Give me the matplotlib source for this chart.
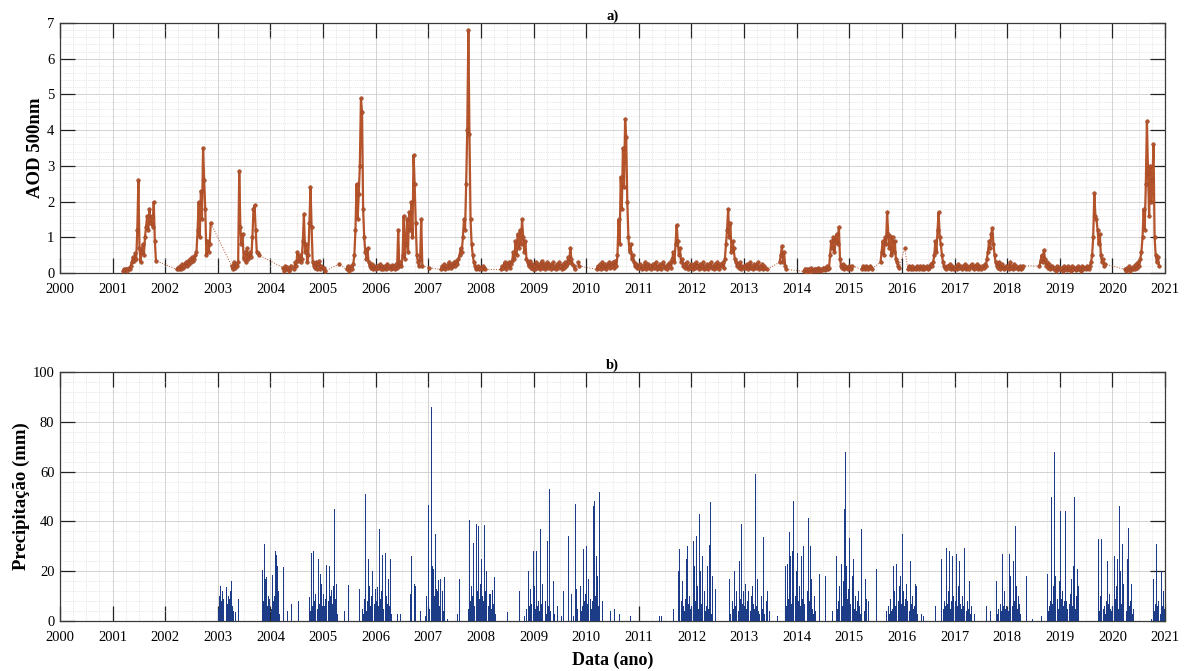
import numpy as np
import matplotlib
matplotlib.use("Agg")
import matplotlib.pyplot as plt
from matplotlib.ticker import MultipleLocator

plt.rcParams['font.family'] = ['Liberation Serif', 'DejaVu Serif']

n = np.nan

# ---------------- AOD 500nm (weekly values, 48 per year) ----------------
aod_2001 = [n]*9 + [0.05,0.1,0.08,0.12,0.06,0.15,0.1,0.2] + [0.3,0.45,0.35,0.55,0.4,1.2,2.6] + \
    [0.7,0.3,0.6,0.8,0.5,1.0] + [1.3,1.6,1.2,1.8,1.4,1.6,1.3,2.0,0.9] + [0.35] + [n]*8
aod_2002 = [n]*10 + [0.1,0.15,0.1,0.2,0.12,0.25,0.15,0.2,0.3,0.2,0.35,0.25,0.4,0.3,0.45,0.35] + \
    [0.4,0.5,0.6] + [1.2,2.0,1.0,2.3,1.5,3.5,2.6,1.8] + [0.5,0.9,0.6,0.8] + [1.4] + [n]*6
aod_2003 = [n]*12 + [0.2,0.1,0.3,0.15,0.25,0.2,0.3] + [2.85] + \
    [1.3,0.8,1.1,0.4,0.6,0.3,0.7,0.4,0.5,0.6,0.45,1.0] + [1.8,1.9,1.2,0.6,0.55,0.5] + [n]*10
aod_2004 = [n]*11 + [0.15,0.05,0.2,0.1,0.18,0.05,0.12,0.2] + [n, n] + \
    [0.1,0.3,0.2,0.6,0.35,0.5,0.3,0.4,0.9,1.65,0.6,0.8,0.3,0.5,1.4,2.4,1.3,0.3,0.2,0.15,
     0.3,0.1,0.25,0.35,0.1,0.2,0.15]
aod_2005 = [0.15,0.05] + [n]*12 + [0.25] + [n]*6 + [0.1,0.2,0.05,0.15,0.2,0.1,0.25] + \
    [0.5,1.2,2.5,1.5,2.2,3.0,4.9,4.5,1.8,1.0,0.6,0.4,0.7,0.3,0.2,0.15,0.25,0.1,0.2,0.15]
aod_2006 = [0.1,0.2,0.15,0.25,0.1,0.2,0.12,0.18,0.2,0.1,0.25,0.15,0.2,0.1,0.22,0.15,0.2,0.1,0.25,0.15] + \
    [1.2,0.2,0.3,0.2,0.5,1.6,0.4,0.8,1.5,0.6,1.7,1.2,2.0,1.0,3.3,2.5,1.4,0.5,0.3,0.2,0.4,1.5,0.2] + [n]*5
aod_2007 = [0.15] + [n]*10 + \
    [0.1,0.2,0.15,0.25,0.1,0.2,0.15,0.3,0.2,0.15,0.25,0.2,0.3,0.2,0.35,0.25,0.4] + \
    [0.5,0.7,0.6,1.0,1.5,1.2,2.5,4.0,6.8,3.9,1.5,0.8,0.5,0.3,0.2,0.1,0.15,0.2,0.1,0.15]
aod_2008 = [0.1,0.2,0.15,0.1] + [n]*14 + \
    [0.1,0.2,0.15,0.3,0.1,0.25,0.2,0.3,0.15,0.25,0.35,0.6,0.4,0.9,0.5,1.1,0.7,1.2,0.8,1.5,
     1.0,0.6,0.9,0.4,0.3,0.2,0.35,0.15,0.25,0.1]
aod_2009 = [0.2,0.1,0.3,0.15,0.25,0.1,0.2,0.35,0.15,0.25,0.1,0.2,0.3,0.15,0.25,0.1,0.2,0.3,0.15,0.2,
            0.1,0.25,0.15,0.3,0.2,0.1,0.25,0.15,0.3,0.2,0.25,0.45,0.3,0.7,0.4,0.25,0.2,0.1] + \
    [n, n] + [0.3,0.2] + [n]*6
aod_2010 = [n]*9 + [0.1,0.2,0.15,0.25,0.1,0.3,0.2,0.15,0.25,0.1,0.2,0.3,0.15,0.25,0.2,0.3,0.15,0.35,0.2] + \
    [0.5,1.5,0.8,2.7,1.8,3.5,2.4,4.3] + [3.8,2.0,1.0,0.6,0.8,0.4,0.5,0.3,0.2,0.25,0.15,0.2]
aod_2011 = [0.15,0.25,0.1,0.2,0.15,0.3,0.1,0.2,0.25,0.15,0.2,0.1,0.25,0.15,0.2,0.3,0.1,0.2,0.15,0.25,
            0.1,0.2,0.3,0.15,0.2,0.1,0.25,0.2,0.3,0.15,0.4,0.6,0.3,0.8,1.35,0.9,0.5,0.7,0.3,0.4,
            0.2,0.25,0.15,0.3,0.1,0.2,0.15,0.25]
aod_2012 = [0.2,0.1,0.25,0.15,0.3,0.2,0.1,0.25,0.15,0.2,0.3,0.1,0.2,0.15,0.25,0.1,0.2,0.3,0.15,0.2,
            0.1,0.25,0.15,0.3,0.2,0.1,0.25,0.2,0.3,0.15,0.4,0.8,1.2,1.8,1.0,1.4,0.6,0.9,0.7,0.4,
            0.3,0.2,0.25,0.15,0.3,0.1,0.2,0.15]
aod_2013 = [0.2,0.15,0.25,0.1,0.2,0.3,0.15,0.2,0.1,0.25,0.15,0.2,0.3,0.1,0.2,0.15,0.25,0.1,0.2,0.15,0.1] + \
    [n]*11 + [0.3,0.5,0.75,0.3,0.6,0.2,0.1] + [n]*9
aod_2014 = [n]*6 + [0.05,0.1,0.03,0.12,0.06,0.1,0.04,0.15,0.08,0.05,0.12,0.1,0.06,0.15,0.08,0.1,0.05,
                    0.12,0.15,0.08,0.1,0.2,0.12,0.15] + \
    [0.5,0.9,0.7,1.0,0.6,0.9,1.1,0.8,1.3,0.4,0.2,0.15,0.25,0.1,0.2,0.15,0.1,0.2]
aod_2015 = [0.15,0.1,0.2] + [n]*8 + [0.1,0.2,0.15,0.1,0.2,0.15,0.1,0.2,0.15,0.12] + [n]*7 + \
    [0.3,0.6,0.9,0.5,1.0,0.8,1.7,1.1,0.7,1.05,0.5,1.0,0.6,0.9,0.4,0.3,0.2,0.15] + [n, n]
aod_2016 = [n, n, 0.7, n, n] + \
    [0.1,0.2,0.15,0.1,0.2,0.12,0.15,0.1,0.2,0.15,0.1,0.2,0.15,0.12,0.2,0.1,0.15,0.2,0.1,0.15,0.2,0.25,0.2] + \
    [0.3,0.5,0.9,0.6,1.2,1.7,1.0,0.8,0.5,0.3] + [0.2,0.15,0.1,0.2,0.15,0.25,0.1,0.2,0.15,0.1]
aod_2017 = [0.15,0.2,0.1,0.25,0.15,0.2,0.1,0.15,0.2,0.25,0.1,0.2,0.15,0.1,0.2,0.25,0.15,0.1,0.2,0.15,
            0.25,0.1,0.2,0.15,0.1,0.2,0.15,0.25,0.2] + \
    [0.4,0.6,0.9,0.7,1.1,1.25,0.8,0.5,0.3] + [0.2,0.15,0.3,0.1,0.2,0.25,0.15,0.1,0.2,0.15]
aod_2018 = [0.2,0.1,0.3,0.15,0.2,0.1,0.25,0.15,0.2,0.1,0.15,0.2,0.1,0.15,0.2] + [n]*14 + \
    [0.2,0.35,0.5,0.3,0.65,0.4,0.2,0.3,0.15,0.25,0.1,0.2,0.15] + [0.1,0.15,0.05,0.2,0.1,0.15]
aod_2019 = [0.1,0.15,0.05,0.2,0.1,0.15,0.08,0.2,0.1,0.15,0.05,0.2,0.1,0.15,0.08,0.12,0.2,0.1,0.15,0.05,
            0.2,0.1,0.15,0.1,0.2,0.15,0.1,0.2,0.3] + \
    [0.5,1.0,2.25,1.6,1.5,1.2,0.8,1.1,0.5,0.3,0.4,0.2,0.25] + [n]*6
aod_2020 = [n]*11 + [0.1,0.05,0.15,0.1,0.2,0.05,0.15,0.1,0.2,0.1,0.25,0.15,0.3,0.2,0.4] + \
    [0.6,1.0,1.8,1.2,2.5,4.25,2.8,1.6,3.0,2.0,2.6,3.6,1.0,0.5,0.3,0.45,0.2] + [n]*5

# ---------------- Precipitation (mm, weekly values, 48 per year) ----------------
pr_2003 = [5,10,14,8,12,9,13,13.5,7,10,9,12,16,6,4,0,3.5,0,9] + [0]*21 + [20.5,8,31,17,17.5,6,10,9]
pr_2004 = [5,18.5,8,10,28,26.5,22,12,3,0,0,21.5,0,0,0,4,0,0,0,7,0,0,0,0,0,8] + [0]*9 + \
    [9.5,4,27.5,6,28,8,11,5,25,7,19,15,6]
pr_2005 = [11,6,9,22.5,8,22,10,12.5,7,14,45,9,15,3,17.5] + [0,0,0,0,4,0,0,0,14.5,0,0,0,0,0,0,0,0,0] + \
    [13,0,5,3,9,51,4,8,25,14,6,10,20,7,13]
pr_2006 = [8,13.5,6,37,9,12,26.5,5,27.5,10,7,17,6,25,3,0] + [0,0,0,3,0,0,3,0,0,0,0,0,0,0] + \
    [0,11,26,0,0,15,14,0,0,0,4,0,0,0,0,2,10,0]
pr_2007 = [46.5,5,86,22,21,10,35,13,12,16.5,6,17,12,4,17.5] + \
    [0,0,1,0,0,0,0,0,0,0,0,3,0,17,0,0,0,0,0,0,0] + [5,40.5,8,14,10,31.5,6,39,12,38,9,15]
pr_2008 = [25,10,8,38.5,12,20,6,11,11,5,12.5,7,17.5,3] + [0]*10 + [3.5] + [0]*10 + \
    [12,0,0,0,2,0,5,0,20,6,13,7,28]
pr_2009 = [14,5,28,6,8,4,36.8,7,15,5,8,3,32,6,53,4,0,0,16,3,0,6,0,0,0,2,0,12] + \
    [0,0,0,34,0,0,11,0,2,0,47,13,5,0,14,4,6,29,8,11]
pr_2010 = [30,7,17,9,5,8,46,48,10,26,18,6,52,22,8,0,0,0,0,0,0,0,4,0,0,5] + \
    [0,0,0,0,3,0,0,0,0,0,0,0,0,0,2,0,0,0,0,0,0,0]
pr_2011 = [0,0,0,0,0,0,0,0,0,0, 0,0,0,0,0,0,0,0,2,0, 2,0,0,0,0,0,0,0,0,0,
           0,5,0,0,0,0,20,29,8,16, 6,4,9,25,30,7,10,5]
pr_2012 = [6,32,22,8,34,14,5,42.8,20,7,26,12,4,6,22,5,30.5,47.9,3,18,0,13] + [0]*12 + \
    [17,3,0,8,5,20,6,12,4,24,9,38.8,7,12]
pr_2013 = [6,15,5,8,12,4,10,14,7,5,59.2,6,17,4,3,10,5,33.8,3,0,8,12,0,4] + \
    [0,0,0,0,0,0,2,0,0,0,0,0,0] + [22,6,23,9,35.6,26,7,28,48,10,20]
pr_2014 = [27.5,8,14,6,26,9,30,7,40.5,12,41.5,8,30,17,5,3,10,4,0,0] + \
    [19,0,0,0,0,0,18,0,0,0,0,0,4,0,0,0] + [26,5,8,14,23,6,16,45,68,22,9,13]
pr_2015 = [33.5,7,18,25,5,10,4,8,12,6,3,37,12,4,17,9,0,8,0,0] + \
    [0,0,0,0,21,0,0,0,0,0,0,0,0,4,0,6] + [3,9,4,5,22,12,6,23,8,14,18,7]
pr_2016 = [35,12,6,9,15,8,4,24,7,10,5,6,15,14,3,0,0,3,0,2] + \
    [0,0,0,0,0,0,0,0,0,0,6,0,0,0,0,0] + [25,5,8,6,29.5,7,12,28,5,8,26,10]
pr_2017 = [8,27,6,14,24,7,5,10,6,29.5,4,8,5,16,3,6,0,0,3,0] + \
    [0,0,0,0,0,0,0,0,0,6,0,0,4,0,0,0] + [0,0,16,3,5,7,4,27,6,12,5,6]
pr_2018 = [5,4,27,18,6,24,8,38,14,5,10,7,3,0,0,0,0,18,0,0] + \
    [0,0,0,1,0,0,0,0,0,0,0,2,0,0,0,0] + [19,4,6,8,50,7,14,68,18,9,5,16]
pr_2019 = [44,9,12,6,8,44,8,5,7,11,17,6,22,50,5,10,21,14,0,0] + \
    [0]*15 + [33] + [4,10,33,5,6,3,8,24,7,11,5,4]
pr_2020 = [6,26,9,14,25,5,46,20,7,31,15,8,4,25,37.5,6,8,15,3,5] + \
    [0]*15 + [1] + [0,17,4,7,31,6,8,3,20,6,12,5]

year_ticks = list(range(2000, 2022))
aod_ticks = list(range(0, 8))
pr_ticks = [0, 20, 40, 60, 80, 100]

aod_by_year = {2001: aod_2001, 2002: aod_2002, 2003: aod_2003, 2004: aod_2004, 2005: aod_2005,
               2006: aod_2006, 2007: aod_2007, 2008: aod_2008, 2009: aod_2009, 2010: aod_2010,
               2011: aod_2011, 2012: aod_2012, 2013: aod_2013, 2014: aod_2014, 2015: aod_2015,
               2016: aod_2016, 2017: aod_2017, 2018: aod_2018, 2019: aod_2019, 2020: aod_2020}
pr_by_year = {2003: pr_2003, 2004: pr_2004, 2005: pr_2005, 2006: pr_2006, 2007: pr_2007,
              2008: pr_2008, 2009: pr_2009, 2010: pr_2010, 2011: pr_2011, 2012: pr_2012,
              2013: pr_2013, 2014: pr_2014, 2015: pr_2015, 2016: pr_2016, 2017: pr_2017,
              2018: pr_2018, 2019: pr_2019, 2020: pr_2020}

def to_series(d):
    xs, ys = [], []
    for yr, vals in d.items():
        assert len(vals) == 48, (yr, len(vals))
        for i, v in enumerate(vals):
            xs.append(yr + (i + 0.5) / 48.0)
            ys.append(v)
    return np.array(xs), np.array(ys, dtype=float)

aod_x, aod_y = to_series(aod_by_year)
ok = ~np.isnan(aod_y)
aod_x, aod_y = aod_x[ok], aod_y[ok]
pr_x, pr_y = to_series(pr_by_year)

fig = plt.figure(figsize=(11.86, 6.71), dpi=100)
ax1 = fig.add_axes([0.0506, 0.5931, 0.9317, 0.3726])
ax2 = fig.add_axes([0.0506, 0.0745, 0.9317, 0.3711])

aod_color = '#b5532a'
bar_color = '#1d3c88'
spine_col = '#3a3a3a'

def style(ax, ymax, yticks, yminor):
    ax.set_xlim(2000, 2021)
    ax.set_ylim(0, ymax)
    ax.set_xticks(year_ticks)
    ax.set_xticklabels([str(t) for t in year_ticks])
    ax.set_yticks(yticks)
    ax.xaxis.set_minor_locator(MultipleLocator(0.25))
    ax.yaxis.set_minor_locator(MultipleLocator(yminor))
    ax.grid(which='major', color='#cccccc', lw=0.6, ls='-')
    ax.grid(which='minor', color='#d2d2d2', lw=0.5, ls=':')
    ax.set_axisbelow(True)
    ax.tick_params(which='major', direction='in', length=11, width=0.9, color='#222222',
                   top=True, right=True, labelsize=10.5)
    ax.tick_params(axis='x', which='major', pad=7)
    ax.tick_params(axis='y', which='major', pad=4)
    ax.tick_params(which='minor', length=0, top=True, right=True)
    for s in ax.spines.values():
        s.set_color(spine_col)
        s.set_linewidth(0.9)

style(ax1, 7, aod_ticks, 0.2)
style(ax2, 100, pr_ticks, 4)

# dotted thin line joining all points (visible across data gaps)
ax1.plot(aod_x, aod_y, ':', color=aod_color, lw=0.7, zorder=3)
# denser solid strokes inside continuous stretches of data
step = 1.0 / 48
breaks = np.where(np.diff(aod_x) > 1.5 * step)[0] + 1
for seg_x, seg_y in zip(np.split(aod_x, breaks), np.split(aod_y, breaks)):
    ax1.plot(seg_x, seg_y, '-', color=aod_color, lw=1.6, zorder=3, solid_joinstyle='miter')
ax1.plot(aod_x, aod_y, 'o', ms=2.6, color=aod_color, mec='#98462a', mew=0.4, zorder=4)
ax1.set_ylabel('AOD 500nm', fontsize=13.5, fontweight='bold', labelpad=2)
ax1.set_title('a)', fontsize=10.5, fontweight='bold', pad=2)

ax2.bar(pr_x, pr_y, width=0.9 / 48, color=bar_color, linewidth=0, align='center', zorder=3)
ax2.set_ylabel('Precipitação (mm)', fontsize=13.5, fontweight='bold', labelpad=2)
ax2.set_xlabel('Data (ano)', fontsize=13, fontweight='bold', labelpad=6)
ax2.set_title('b)', fontsize=10.5, fontweight='bold', pad=2)

fig.savefig('out.png', dpi=100, facecolor='white')
